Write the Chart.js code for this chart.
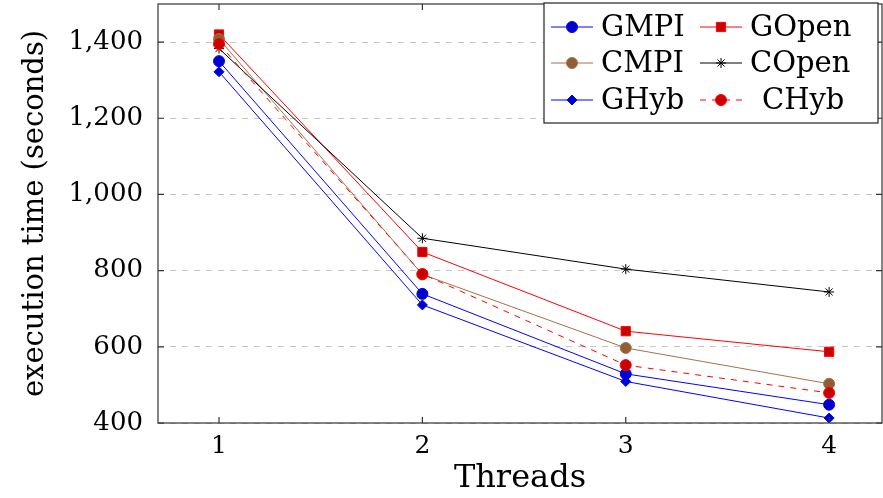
<!DOCTYPE html>
<html><head><meta charset="utf-8">
<script src="https://cdn.jsdelivr.net/npm/chart.js@4"></script>
<style>html,body{margin:0;padding:0;background:#fff}#wrap{width:883px;height:498px}</style>
</head><body><div id="wrap"><canvas id="c" width="883" height="498"></canvas></div>
<script>
const threads = [1, 2, 3, 4];
const yTicks = [400, 600, 800, 1000, 1200, 1400];
const gmpi  = [1350, 739, 529, 448];
const gopen = [1420, 849, 641, 587];
const cmpi  = [1408, 790, 597, 503];
const copen = [1383, 885, 804, 744];
const ghyb  = [1322, 710, 509, 413];
const chyb  = [1395, 791, 552, 479];
const seriesLabels = ['GMPI','GOpen','CMPI','COpen','GHyb','CHyb'];

const FONT = '"DejaVu Serif", serif';
function pts(arr){ return threads.map((t,i)=>({x:t, y:arr[i]})); }

const ds = [
  {label:seriesLabels[0], data:pts(gmpi), borderColor:'#0000ff', backgroundColor:'#0000cc', pointBorderColor:'#0000ff', pointStyle:'circle', pointRadius:5.5},
  {label:seriesLabels[1], data:pts(gopen), borderColor:'#ff0000', backgroundColor:'#cc0000', pointBorderColor:'#ff0000', pointStyle:'rect', pointRadius:6.5},
  {label:seriesLabels[2], data:pts(cmpi), borderColor:'#a57246', backgroundColor:'#8f5f33', pointBorderColor:'#a57246', pointStyle:'circle', pointRadius:5.5},
  {label:seriesLabels[3], data:pts(copen), borderColor:'#000000', backgroundColor:'#000000', pointBorderColor:'#000000', pointStyle:'star', pointRadius:5},
  {label:seriesLabels[4], data:pts(ghyb), borderColor:'#0000ff', backgroundColor:'#0000cc', pointBorderColor:'#0000ff', pointStyle:'rectRot', pointRadius:5},
  {label:seriesLabels[5], data:pts(chyb), borderColor:'#ff0000', backgroundColor:'#cc0000', pointBorderColor:'#ff0000', pointStyle:'circle', pointRadius:5.5, borderDash:[6,6]}
];
ds.forEach((d,i)=>{ d.borderWidth=1; d.pointBorderWidth=1; d.tension=0; d.fill=false; d.pointHoverRadius=d.pointRadius; d.order=ds.length-i; });

const framePlugin = {
  id:'frame',
  afterDatasetsDraw(chart){
    const {ctx, chartArea:a, scales:{x,y}} = chart;
    ctx.save();
    ctx.strokeStyle='#333';
    ctx.lineWidth=1.2;
    ctx.strokeRect(a.left, a.top, a.right-a.left, a.bottom-a.top);
    ctx.beginPath();
    threads.forEach(t=>{
      const px=x.getPixelForValue(t);
      ctx.moveTo(px,a.bottom); ctx.lineTo(px,a.bottom-6);
      ctx.moveTo(px,a.top); ctx.lineTo(px,a.top+6);
    });
    yTicks.forEach(v=>{
      const py=y.getPixelForValue(v);
      ctx.moveTo(a.left,py); ctx.lineTo(a.left+6,py);
      ctx.moveTo(a.right,py); ctx.lineTo(a.right-6,py);
    });
    ctx.stroke();
    ctx.restore();
  },
  afterDraw(chart){
    const ctx=chart.ctx;
    const bx=544, by=3, bw=334, bh=120;
    ctx.save();
    ctx.fillStyle='#fff';
    ctx.fillRect(bx,by,bw,bh);
    ctx.strokeStyle='#222'; ctx.lineWidth=1.2;
    ctx.strokeRect(bx,by,bw,bh);
    const rows=[27,63,100];
    const cols=[{lx:551,tx:601},{lx:700,tx:750}];
    ctx.font='29px '+FONT;
    ctx.textBaseline='middle';
    chart.data.datasets.forEach((d,i)=>{
      const r=Math.floor(i/2), c=i%2;
      const yy=rows[r], lx=cols[c].lx;
      ctx.save();
      ctx.strokeStyle=d.borderColor; ctx.lineWidth=1;
      if(d.borderDash) ctx.setLineDash(d.borderDash);
      ctx.beginPath(); ctx.moveTo(lx,yy); ctx.lineTo(lx+42,yy); ctx.stroke();
      ctx.restore();
      ctx.save();
      ctx.fillStyle=d.backgroundColor; ctx.strokeStyle=d.pointBorderColor; ctx.lineWidth=1;
      Chart.helpers.drawPoint(ctx,{pointStyle:d.pointStyle,radius:d.pointRadius,borderWidth:1},lx+21,yy);
      ctx.restore();
      ctx.fillStyle='#000';
      let tx=cols[c].tx;
      if(i===5) tx=762;
      ctx.fillText(d.label, tx, yy+1);
    });
    ctx.restore();
  }
};

new Chart(document.getElementById('c'), {
  type:'line',
  data:{datasets:ds},
  options:{
    responsive:false, animation:false,
    devicePixelRatio:1,
    layout:{autoPadding:false, padding:{top:4,right:1,left:0,bottom:0}},
    plugins:{legend:{display:false}, tooltip:{enabled:false}},
    scales:{
      x:{type:'linear', min:0.7, max:4.26,
        afterBuildTicks(s){ s.ticks = threads.map(v=>({value:v})); },
        afterFit(s){ s.height=75; s.paddingLeft=0; s.paddingRight=0; },
        grid:{display:false, drawTicks:false},
        border:{display:false},
        ticks:{color:'#000', font:{family:FONT,size:25}, padding:8, callback:v=>String(v)},
        title:{display:true, text:'Threads', color:'#000', font:{family:FONT,size:32}, padding:{top:0,bottom:0}}
      },
      y:{type:'linear', min:400, max:1500,
        afterBuildTicks(s){ s.ticks = yTicks.map(v=>({value:v})); },
        afterFit(s){ s.width=158; s.paddingTop=0; s.paddingBottom=0; },
        grid:{color:'#c8c8c8', borderDash:[6,6], drawTicks:false, lineWidth:1},
        border:{display:false, dash:[6,6]},
        ticks:{color:'#000', font:{family:FONT,size:26}, padding:15, callback:v=>v.toLocaleString('en-US')},
        title:{display:true, text:'execution time (seconds)', color:'#000', font:{family:FONT,size:29}, padding:{top:18,bottom:4}}
      }
    }
  },
  plugins:[framePlugin]
});
</script></body></html>
